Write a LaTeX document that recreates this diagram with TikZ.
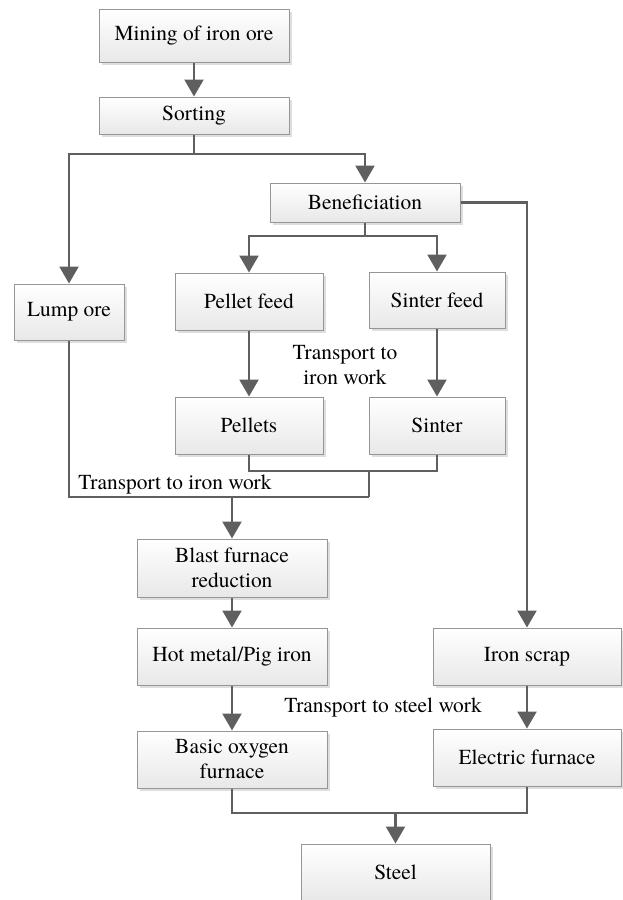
\documentclass[tikz,border=0pt]{standalone}
\usepackage{fontspec}
\setmainfont{TeX Gyre Termes}
\usetikzlibrary{arrows.meta, shadows}
\definecolor{linegray}{RGB}{95,95,95}
\definecolor{edgegray}{RGB}{150,150,150}
\tikzset{
  stage/.style={draw=edgegray, line width=0.5pt, top color=white,
                bottom color=black!9, align=center, inner sep=0pt,
                drop shadow={shadow xshift=1.5pt, shadow yshift=-1.5pt,
                             fill=black!13, opacity=1},
                font=\rmfamily\fontsize{10.7}{12.5}\selectfont},
  flow/.style ={-{Triangle[length=8.5pt, width=9.5pt]}, line width=1.2pt,
                draw=linegray},
  link/.style ={line width=1.2pt, draw=linegray},
  lab/.style  ={font=\rmfamily\fontsize{10.7}{12.5}\selectfont,
                align=center, inner sep=0pt},
}
\begin{document}
\begin{tikzpicture}[x=0.5pt, y=-0.5pt]
  \useasboundingbox (0,0) rectangle (622,900);
  % ore preparation
  \node[stage, minimum width=95pt, minimum height=26.5pt] (mine) at (194,35.5) {Mining of iron ore};
  \node[stage, minimum width=95pt, minimum height=18.5pt] (sort) at (194,115.5) {Sorting};
  \node[stage, minimum width=95pt, minimum height=19.5pt] (benef) at (365,202.5) {Beneficiation};
  \node[stage, minimum width=55pt, minimum height=28pt] (lump) at (69,312) {Lump ore};
  \node[stage, minimum width=74pt, minimum height=28.5pt] (pfeed) at (249,301.5) {Pellet feed};
  \node[stage, minimum width=68pt, minimum height=28pt] (sfeed) at (437,300) {Sinter feed};
  \node[stage, minimum width=74pt, minimum height=28.5pt] (pellets) at (249,425.5) {Pellets};
  \node[stage, minimum width=68pt, minimum height=28.5pt] (sinter) at (437,425.5) {Sinter};
  % iron and steel making
  \node[stage, minimum width=95pt, minimum height=29pt] (blast) at (232,568) {Blast furnace\\reduction};
  \node[stage, minimum width=95pt, minimum height=28.5pt] (hot) at (232,656.5) {Hot metal/Pig iron};
  \node[stage, minimum width=95pt, minimum height=28.5pt] (boxy) at (232,759.5) {Basic oxygen\\furnace};
  \node[stage, minimum width=94pt, minimum height=28.5pt] (scrap) at (527,656.5) {Iron scrap};
  \node[stage, minimum width=94pt, minimum height=28.5pt] (elec) at (527,757.5) {Electric furnace};
  \node[stage, minimum width=94.5pt, minimum height=28.5pt] (steel) at (395.5,872.5) {Steel};
  % transport labels
  \node[lab] (trpel) at (345,365) {Transport to\\iron work};
  \node[lab] (triron) at (175,485) {Transport to iron work};
  \node[lab] (trsteel) at (383,708) {Transport to steel work};
  % junctions
  \coordinate (sortsplit) at (194,154);
  \coordinate (benefsplit) at (365,236);
  \coordinate (pjoin) at (369,471);
  \coordinate (ironjoin) at (369,497);
  \coordinate (steeljoin) at (395.5,813);
  % connectors
  \draw[flow] (mine) -- (sort);
  \draw[link] (sort) -- (sortsplit);
  \draw[flow] (sortsplit) -| (lump);
  \draw[flow] (sortsplit) -| (benef);
  \draw[link] (benef) -- (benefsplit);
  \draw[flow] (benefsplit) -| (pfeed);
  \draw[flow] (benefsplit) -| (sfeed);
  \draw[flow] (benef) -| (scrap);
  \draw[flow] (pfeed) -- (pellets);
  \draw[flow] (sfeed) -- (sinter);
  \draw[link] (pellets) |- (pjoin) -| (sinter);
  \draw[link] (pjoin) -- (ironjoin);
  \draw[link] (lump) |- (ironjoin);
  \draw[flow] (blast.north |- ironjoin) -- (blast);
  \draw[flow] (blast) -- (hot);
  \draw[flow] (hot) -- (boxy);
  \draw[flow] (scrap) -- (elec);
  \draw[link] (boxy) |- (steeljoin) -| (elec);
  \draw[flow] (steeljoin) -- (steel);
\end{tikzpicture}
\end{document}
